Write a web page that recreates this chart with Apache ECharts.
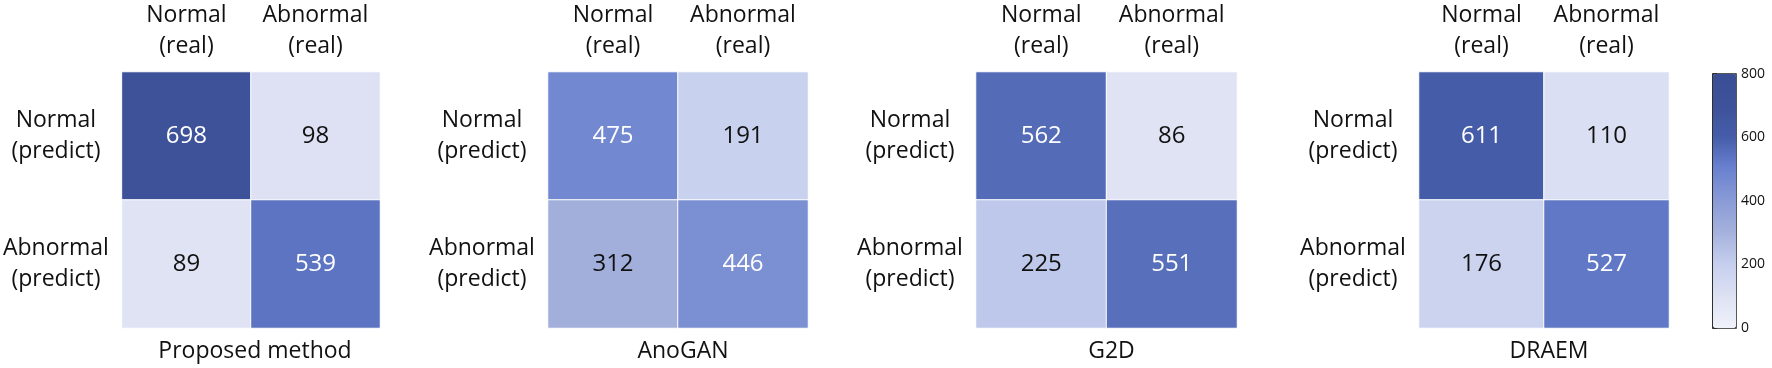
<!DOCTYPE html>
<html>
<head>
<meta charset="utf-8">
<script src="https://cdn.jsdelivr.net/npm/echarts@6/dist/echarts.min.js"></script>
<style>
  html, body { margin: 0; padding: 0; background: #fff; }
  #chart { width: 1772px; height: 368px; }
</style>
</head>
<body>
<div id="chart"></div>
<script>
const methods = ['Proposed method', 'AnoGAN', 'G2D', 'DRAEM'];
const realLabels = ['Normal\n(real)', 'Abnormal\n(real)'];
const predictLabels = ['Normal\n(predict)', 'Abnormal\n(predict)'];
// rows = predict, columns = real
const proposedValues = [[698, 98], [89, 539]];
const anoganValues = [[475, 191], [312, 446]];
const g2dValues = [[562, 86], [225, 551]];
const draemValues = [[611, 110], [176, 527]];
const allValues = [proposedValues, anoganValues, g2dValues, draemValues];
const colorbarMin = 0;
const colorbarMax = 800;
const colorbarStep = 200;

// layout of each matrix (left, width)
const boxes = [
  { left: 120, width: 260 },
  { left: 548, width: 260 },
  { left: 976, width: 261 },
  { left: 1419, width: 250 }
];
const boxTop = 70;
const boxHeight = 258;
const font = '"Open Sans", "Noto Sans", sans-serif';

const chart = echarts.init(document.getElementById('chart'));

const grids = [];
const xAxes = [];
const yAxes = [];
const series = [];
const titles = [];

boxes.forEach((b, i) => {
  grids.push({ left: b.left, top: boxTop, width: b.width, height: boxHeight });
  xAxes.push({
    type: 'category', gridIndex: i, position: 'top', data: realLabels,
    axisLine: { show: false }, axisTick: { show: false },
    axisLabel: { interval: 0, fontFamily: font, fontSize: 23, color: '#111', lineHeight: 31, margin: 10 }
  });
  yAxes.push({
    type: 'category', gridIndex: i, inverse: true, data: predictLabels,
    axisLine: { show: false }, axisTick: { show: false },
    axisLabel: { interval: 0, fontFamily: font, fontSize: 23, color: '#111', lineHeight: 31, align: 'center', margin: 66 }
  });
  const data = [];
  allValues[i].forEach((row, r) => {
    row.forEach((v, c) => {
      data.push({ value: [c, r, v], label: { color: v > 400 ? '#fff' : '#111' } });
    });
  });
  series.push({
    type: 'heatmap', xAxisIndex: i, yAxisIndex: i, data: data,
    itemStyle: { borderColor: '#fff', borderWidth: 1 },
    label: { show: true, fontFamily: font, fontSize: 24 },
    emphasis: { disabled: true }
  });
  titles.push({
    text: methods[i], left: b.left + b.width / 2, top: 335, textAlign: 'center',
    textStyle: { fontFamily: font, fontSize: 23, fontWeight: 'normal', color: '#111' }
  });
});

// colorbar axis
grids.push({ left: 1713, top: 74, width: 23, height: 254, show: true, borderColor: '#222', borderWidth: 1.5, backgroundColor: 'transparent' });
xAxes.push({ type: 'value', gridIndex: 4, show: false, min: 0, max: 1 });
yAxes.push({
  type: 'value', gridIndex: 4, position: 'right', min: colorbarMin, max: colorbarMax, interval: colorbarStep,
  axisLine: { show: true, lineStyle: { color: '#222', width: 1.5 } },
  axisTick: { show: true, length: 4, lineStyle: { color: '#222', width: 1.5 } },
  splitLine: { show: false },
  axisLabel: { fontFamily: font, fontSize: 14, color: '#111', margin: 5 }
});

chart.setOption({
  animation: false,
  title: titles,
  grid: grids,
  xAxis: xAxes,
  yAxis: yAxes,
  visualMap: {
    type: 'continuous', min: colorbarMin, max: colorbarMax, seriesIndex: [0, 1, 2, 3],
    calculable: false, orient: 'vertical', left: 1713, top: 74, itemWidth: 23, itemHeight: 254,
    padding: 0, text: null, showLabel: false,
    inRange: { color: ['#f0f2fb', '#dde1f3', '#c6cfee', '#a5b2dc', '#8a9bd6', '#6a82cf', '#465daa', '#3d5299', '#394e94'] }
  },
  series: series
});
</script>
</body>
</html>
